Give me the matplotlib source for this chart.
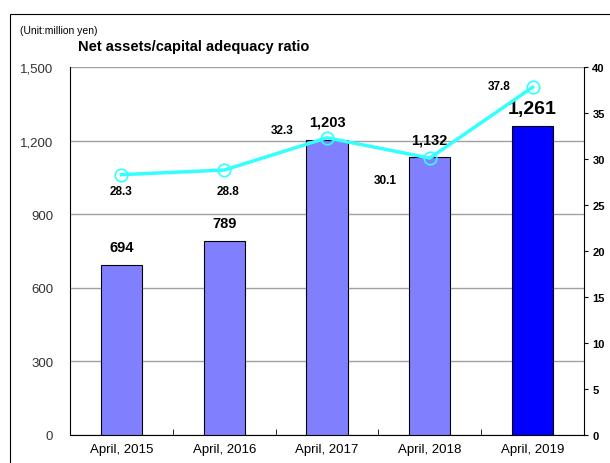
import matplotlib.pyplot as plt
import matplotlib.patches as mpatches
import numpy as np

plt.rcParams['font.family'] = ['Liberation Sans', 'DejaVu Sans']

categories = ['April, 2015', 'April, 2016', 'April, 2017', 'April, 2018', 'April, 2019']
net_assets = [694, 789, 1203, 1132, 1261]
net_labels = ['694', '789', '1,203', '1,132', '1,261']
ratio = [28.3, 28.8, 32.3, 30.1, 37.8]
left_ticks = [0, 300, 600, 900, 1200, 1500]
left_tick_labels = ['0', '300', '600', '900', '1,200', '1,500']
right_ticks = [0, 5, 10, 15, 20, 25, 30, 35, 40]

fig = plt.figure(figsize=(6.10, 4.64), dpi=100)
ax = fig.add_axes([70 / 610, 1 - 436 / 464, (584 - 70) / 610, (436 - 68) / 464])

# outer frame (cropped at right/bottom)
fig.patches.append(mpatches.Rectangle((10 / 610, -0.1), 1.2, 1 - 15 / 464 + 0.1,
                                      transform=fig.transFigure, fill=False,
                                      edgecolor='black', linewidth=0.8))

x = np.arange(len(categories))
colors = ['#8080ff'] * 4 + ['#0000ff']
ax.bar(x, net_assets, width=0.4, color=colors, edgecolor='black', linewidth=0.8, zorder=3)

ax.set_xlim(-0.5, 4.5)
ax.set_ylim(0, 1500)
ax.set_yticks(left_ticks)
ax.set_yticklabels(left_tick_labels, fontsize=9.5, color='#333333')
ax.tick_params(axis='y', length=0, pad=12)
ax.set_xticks(x)
ax.set_xticklabels(categories, fontsize=9.5)
ax.tick_params(axis='x', length=0, pad=6)
ax.set_xticks(np.arange(0.5, 4.5, 1), minor=True)
ax.tick_params(axis='x', which='minor', direction='in', length=4)
ax.grid(axis='y', color='#a0a0a0', linewidth=1, zorder=0)
ax.spines['top'].set_visible(False)
ax.spines['right'].set_visible(False)
ax.spines['left'].set_color('black')

# bar labels
for i, (v, s) in enumerate(zip(net_assets, net_labels)):
    if i == 4:
        ax.annotate(s, (i, v), xytext=(0, 6), textcoords='offset points',
                    ha='center', va='bottom', fontsize=14, fontweight='bold')
    else:
        ax.annotate(s, (i, v), xytext=(0, 8), textcoords='offset points',
                    ha='center', va='bottom', fontsize=10.5, fontweight='bold')

ax2 = ax.twinx()
ax2.plot(x, ratio, color='#33ffff', linewidth=2.5, marker='o', markersize=9,
         markerfacecolor='none', markeredgecolor='#33ffff', markeredgewidth=1.2, zorder=5)
ax2.set_ylim(0, 40)
ax2.set_yticks(right_ticks)
ax2.set_yticklabels([str(t) for t in right_ticks], fontsize=8, fontweight='bold')
ax2.tick_params(axis='y', direction='out', length=3, pad=3)
for sp in ['top', 'left', 'bottom']:
    ax2.spines[sp].set_visible(False)
ax2.spines['right'].set_color('black')

offsets = [(0, -12), (3, -15), (-32, 6), (-32, -16), (-24, 1)]
for i, (v, off) in enumerate(zip(ratio, offsets)):
    ax2.annotate(f'{v:.1f}', (i, v), xytext=off, textcoords='offset points',
                 ha='center', va='center', fontsize=8.5, fontweight='bold')

fig.text(20 / 610, 1 - 31 / 464, '(Unit:million yen)', fontsize=7.5, va='center')
fig.text(78 / 610, 1 - 47 / 464, 'Net assets/capital adequacy ratio', fontsize=10.5,
         fontweight='bold', va='center')

fig.savefig('out.png', dpi=100)
